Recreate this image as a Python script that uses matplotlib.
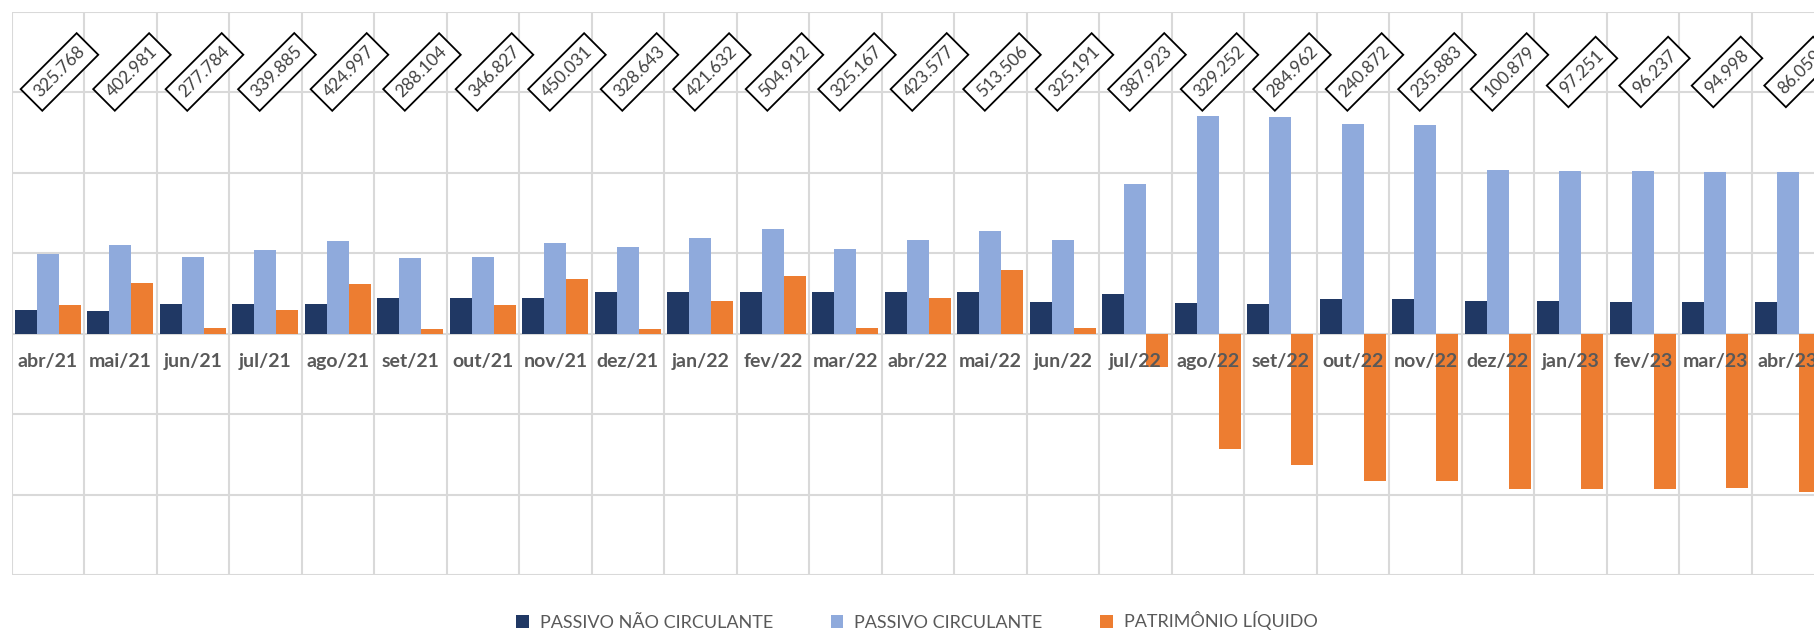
import numpy as np
import matplotlib.pyplot as plt

meses = ['abr/21', 'mai/21', 'jun/21', 'jul/21', 'ago/21', 'set/21', 'out/21', 'nov/21',
         'dez/21', 'jan/22', 'fev/22', 'mar/22', 'abr/22', 'mai/22', 'jun/22', 'jul/22',
         'ago/22', 'set/22', 'out/22', 'nov/22', 'dez/22', 'jan/23', 'fev/23', 'mar/23', 'abr/23']

passivo_nao_circ = [58, 57, 73, 73, 73, 88, 88, 88, 103, 103, 103, 102, 102, 102, 78, 99,
                    76, 74, 87, 86, 80, 80, 79, 78, 78]
passivo_circ = [198, 221, 190, 208, 229, 188, 189, 226, 214, 238, 259, 209, 233, 255, 232, 372,
                541, 538, 520, 517, 407, 404, 403, 402, 401]
patrimonio = [70, 125, 15, 59, 123, 12, 70, 136, 12, 81, 143, 14, 89, 157, 15, -83,
              -288, -327, -366, -367, -386, -387, -386, -385, -393]
totais = ['325.768', '402.981', '277.784', '339.885', '424.997', '288.104', '346.827', '450.031',
          '328.643', '421.632', '504.912', '325.167', '423.577', '513.506', '325.191', '387.923',
          '329.252', '284.962', '240.872', '235.883', '100.879', '97.251', '96.237', '94.998', '86.059']

plt.rcParams['font.family'] = ['Lato', 'DejaVu Sans']

fig = plt.figure(figsize=(18.14, 6.30), dpi=100)
ax = fig.add_axes([0.0064, 0.0873, 0.9992, 0.8943])

x = np.arange(len(meses))
w = 0.304
ax.bar(x - w, passivo_nao_circ, w, color='#203864', label='PASSIVO NÃO CIRCULANTE', zorder=2)
ax.bar(x, passivo_circ, w, color='#8FAADC', label='PASSIVO CIRCULANTE', zorder=2)
ax.bar(x + w, patrimonio, w, color='#ED7D31', label='PATRIMÔNIO LÍQUIDO', zorder=2)

ax.set_xlim(-0.5, len(meses) - 0.5)
ax.set_ylim(-600, 800)
ax.set_yticks(np.arange(-600, 801, 200))
ax.set_xticks(np.arange(-0.5, len(meses), 1))
ax.tick_params(length=0, labelleft=False, labelbottom=False)
ax.grid(True, color='#D9D9D9', linewidth=1.5, zorder=0)
ax.set_axisbelow(True)
for s in ax.spines.values():
    s.set_visible(False)

# rótulos das categorias junto ao eixo zero
for i, m in enumerate(meses):
    ax.text(i, -70, m, ha='center', va='center', fontsize=14, fontweight='bold',
            color='#595959', zorder=5)

# totais em caixas giradas
for i, t in enumerate(totais):
    ax.text(i + 0.16, 650, t, ha='center', va='center', rotation=45, fontsize=12.5,
            color='#404040', rotation_mode='anchor', zorder=6,
            bbox=dict(boxstyle='square,pad=0.42', fc='white', ec='black', lw=1.3))

fig.legend(loc='center', bbox_to_anchor=(917 / 1814, 9 / 630), ncol=3, frameon=False,
           fontsize=13, labelcolor='#595959', handlelength=0.7, handleheight=0.7,
           handletextpad=0.6, columnspacing=3.2, borderpad=0, borderaxespad=0)

fig.savefig('out.png', dpi=100)
